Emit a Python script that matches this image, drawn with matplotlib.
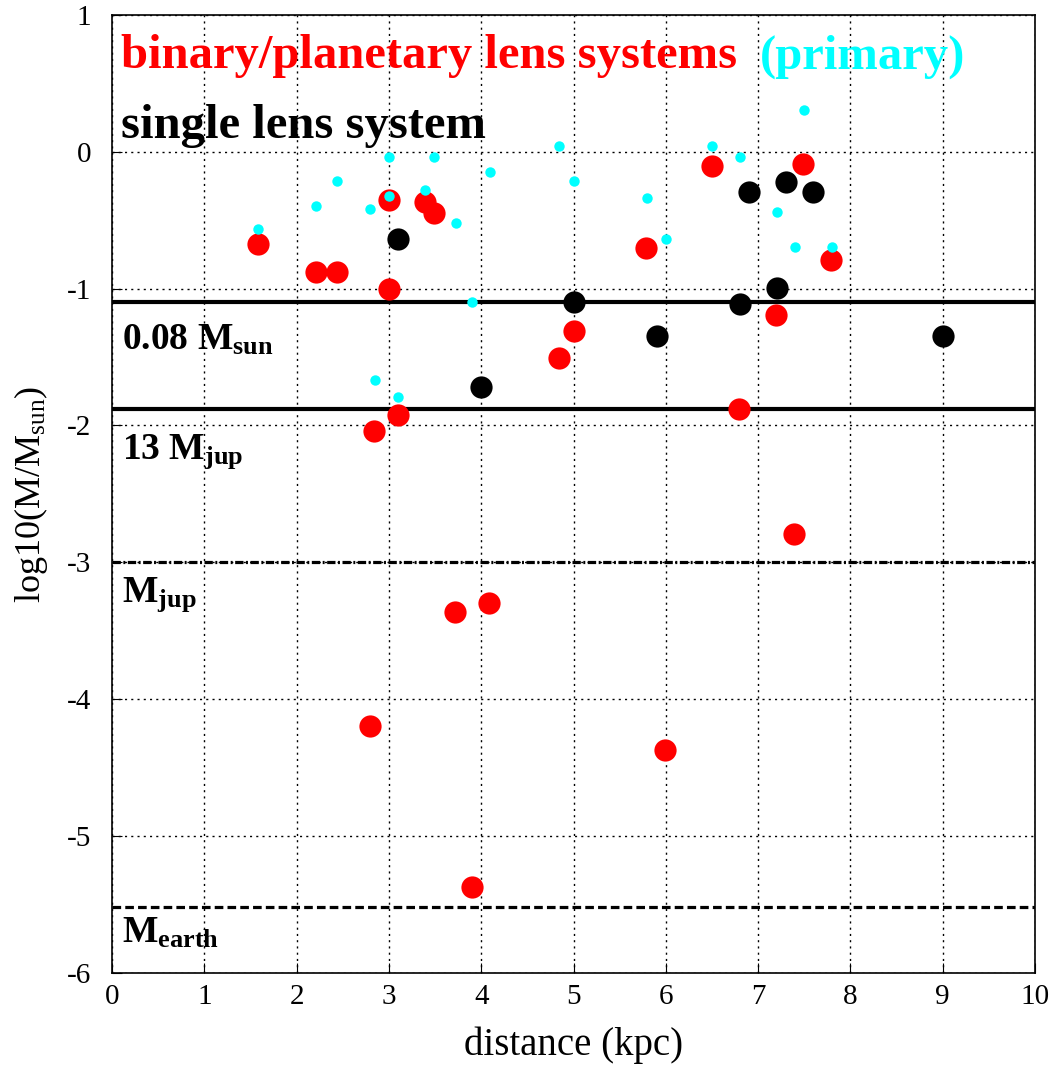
import numpy as np
import matplotlib
matplotlib.use("Agg")
import matplotlib.pyplot as plt

plt.rcParams['font.family'] = ['Liberation Serif', 'DejaVu Serif']
plt.rcParams['mathtext.fontset'] = 'custom'
plt.rcParams['mathtext.rm'] = 'Liberation Serif'
plt.rcParams['mathtext.it'] = 'Liberation Serif:italic'
plt.rcParams['mathtext.bf'] = 'Liberation Serif:bold'
plt.rcParams['axes.unicode_minus'] = False

# binary / planetary lens systems (companion masses)
binary_d = [1.58, 2.21, 2.44, 3.0, 3.0, 3.39, 3.49, 2.84, 3.10, 3.72, 4.08, 2.80,
            3.90, 4.84, 5.0, 5.79, 5.99, 6.50, 6.79, 7.19, 7.39, 7.49, 7.79]
binary_m = [-0.67, -0.88, -0.88, -0.35, -1.0, -0.37, -0.45, -2.04, -1.92, -3.36, -3.30, -4.20,
            -5.37, -1.51, -1.31, -0.70, -4.37, -0.10, -1.88, -1.19, -2.79, -0.09, -0.79]

# primaries of the binary systems
primary_d = [1.585, 2.21, 2.44, 2.80, 3.0, 3.0, 3.39, 3.49, 3.73, 4.10, 4.84, 5.0, 3.90,
             5.80, 6.0, 6.50, 6.80, 7.50, 7.20, 7.40, 7.80, 2.85, 3.10]
primary_m = [-0.567, -0.396, -0.211, -0.42, -0.04, -0.32, -0.28, -0.04, -0.52, -0.15, 0.045, -0.21, -1.10,
             -0.34, -0.635, 0.045, -0.04, 0.306, -0.44, -0.696, -0.696, -1.67, -1.795]

# single lens systems
single_d = [3.10, 4.0, 5.0, 5.90, 6.80, 7.20, 6.90, 7.30, 7.60, 9.0]
single_m = [-0.635, -1.72, -1.096, -1.345, -1.11, -0.996, -0.296, -0.218, -0.29, -1.345]

# reference mass levels
lim_names = ["0.08 M$_{\\mathbf{sun}}$", "13 M$_{\\mathbf{jup}}$", "M$_{\\mathbf{jup}}$", "M$_{\\mathbf{earth}}$"]
lim_vals = [-1.097, -1.88, -3.0, -5.52]
lim_styles = ["-", "-", (0, (2.6, 0.8, 0.6, 0.8)), (0, (2.7, 1.3))]
lim_widths = [3.0, 3.0, 2.3, 2.3]
lim_label_off = [0.35, 0.36, 0.29, 0.26]

fig = plt.figure(figsize=(10.53, 10.66), dpi=100)
ax = fig.add_axes([0.1064, 0.0875, 0.8765, 0.8984])

ax.set_xlim(0, 10)
ax.set_ylim(-6, 1)
ax.set_xticks(range(0, 11))
ax.set_yticks(range(-6, 2))
ax.grid(True, color='black', linestyle=(0, (1.5, 3)), linewidth=1.0)
ax.tick_params(direction='in', length=7, labelsize=21)
ax.tick_params(axis='y', pad=15)
ax.tick_params(axis='x', pad=8)
for s in ax.spines.values():
    s.set_linewidth(1.2)

for v, ls, lw, name, off in zip(lim_vals, lim_styles, lim_widths, lim_names, lim_label_off):
    ax.axhline(v, color='black', linestyle=ls, linewidth=lw, zorder=2)
    ax.text(0.11, v - off, name, fontsize=27, fontweight='bold', va='baseline', ha='left', zorder=5)

ax.plot(binary_d, binary_m, 'o', color='red', markersize=16, markeredgewidth=0, zorder=3)
ax.plot(single_d, single_m, 'o', color='black', markersize=16, markeredgewidth=0, zorder=3)
ax.plot(primary_d, primary_m, 'o', color='cyan', markersize=7.5, markeredgewidth=0, zorder=4)

ax.text(0.1, 0.61, "binary/planetary lens systems", color='red', fontsize=35,
        fontweight='bold', va='baseline', ha='left')
ax.text(7.02, 0.61, "(primary)", color='cyan', fontsize=35,
        fontweight='bold', va='baseline', ha='left')
ax.text(0.1, 0.10, "single lens system", color='black', fontsize=35,
        fontweight='bold', va='baseline', ha='left')

ax.set_xlabel("distance (kpc)", fontsize=28, labelpad=12)
ax.set_ylabel("log10(M/M$_{\\rm sun}$)", fontsize=26, labelpad=12)

fig.savefig("out.png", dpi=100)
